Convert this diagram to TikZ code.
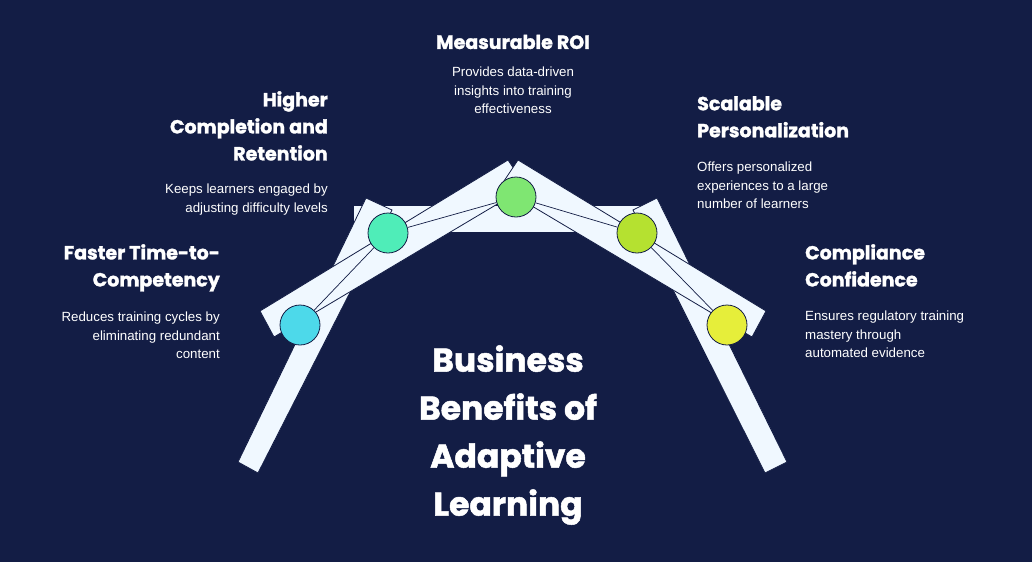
\documentclass[tikz,border=0pt]{standalone}
\usepackage{fontspec}
\setmainfont{Liberation Sans}
\newfontfamily\headf{Poppins}[FakeBold=1.5]
\definecolor{bgc}{HTML}{131D45}
\definecolor{barc}{HTML}{F0F8FF}
\definecolor{ca}{HTML}{4DD9EA}
\definecolor{cb}{HTML}{4FEDB8}
\definecolor{cc}{HTML}{7FE672}
\definecolor{cd}{HTML}{B5E130}
\definecolor{ce}{HTML}{E6EE3A}
\begin{document}
\begin{tikzpicture}[x=1pt,y=-1pt,
  bar/.style={fill=barc,draw=bgc,line width=0.8pt},
  dot/.style={circle,minimum size=40pt,draw=bgc,line width=0.8pt,inner sep=0},
  link/.style={draw=bgc,line width=0.7pt},
  head/.style={font=\headf\fontsize{19}{27}\selectfont\bfseries,text=white,inner sep=0},
  desc/.style={font=\fontsize{13.3}{18.3}\selectfont,text=white,inner sep=0}]
\fill[bgc] (0,0) rectangle (1032,562);
\useasboundingbox (0,0) rectangle (1032,562);
% bars
\draw[bar] (353,205) rectangle (662,232);
\draw[bar] (238,462) -- (258,473) -- (392,210) -- (366,198) -- cycle;
\draw[bar] (787,462) -- (765,473) -- (633,210) -- (657,198) -- cycle;
\draw[bar] (260,311) -- (274,337) -- (526,187) -- (508,160) -- cycle;
\draw[bar] (766,311) -- (752,337) -- (500,187) -- (518,160) -- cycle;
% circles
\node[dot,fill=ca] (c1) at (300,325) {};
\node[dot,fill=cb] (c2) at (388,233) {};
\node[dot,fill=cc] (c3) at (516,197) {};
\node[dot,fill=cd] (c4) at (637,233) {};
\node[dot,fill=ce] (c5) at (727,325) {};
\draw[link] (c1) -- (c2); \draw[link] (c2) -- (c3);
\draw[link] (c3) -- (c4); \draw[link] (c4) -- (c5);
% texts
\node[head] (h3) at (513,42) {Measurable ROI};
\node[desc,align=center,anchor=north] (d3) at (513,67) {Provides data-driven\\insights into training\\effectiveness};
\node[head,align=right,anchor=north east] (h2) at (328,91) {Higher\\Completion and\\Retention};
\node[desc,align=right,anchor=north east] (d2) at (328,184) {Keeps learners engaged by\\adjusting difficulty levels};
\node[head,align=right,anchor=north east] (h1) at (220,244) {Faster Time-to-\\Competency};
\node[desc,align=right,anchor=north east] (d1) at (220,312) {Reduces training cycles by\\eliminating redundant\\content};
\node[head,align=left,anchor=north west] (h4) at (697,96) {Scalable\\Personalization};
\node[desc,align=left,anchor=north west] (d4) at (697,162) {Offers personalized\\experiences to a large\\number of learners};
\node[head,align=left,anchor=north west] (h5) at (805,244) {Compliance\\Confidence};
\node[desc,align=left,anchor=north west] (d5) at (805,311) {Ensures regulatory training\\mastery through\\automated evidence};
\node[font=\headf\fontsize{33}{48}\selectfont\bfseries,text=white,align=center,inner sep=0] (t) at (508,435) {Business\\Benefits of\\Adaptive\\Learning};
\end{tikzpicture}
\end{document}
